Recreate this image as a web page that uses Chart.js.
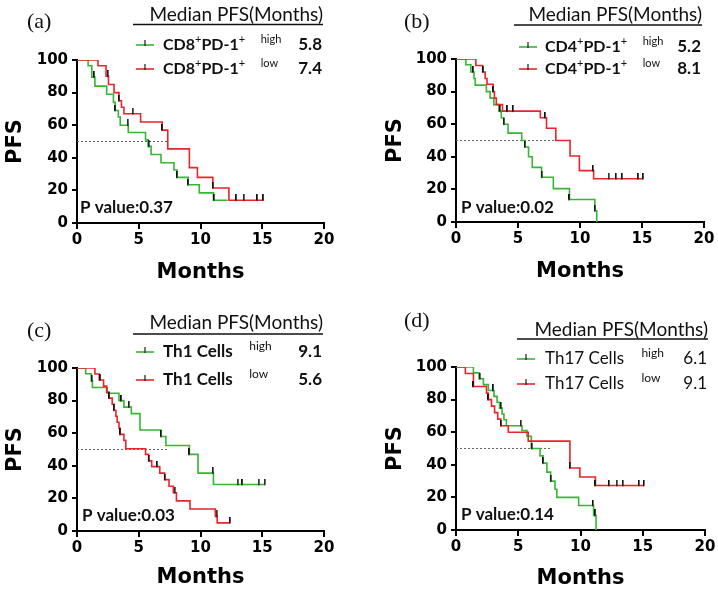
<!DOCTYPE html>
<html>
<head>
<meta charset="utf-8">
<script src="https://cdn.jsdelivr.net/npm/chart.js@4.4.1/dist/chart.umd.min.js"></script>
<style>
  body { margin: 0; background: #fff; }
  #wrap { position: relative; width: 718px; height: 592px; overflow: hidden; }
  .panel { position: absolute; width: 359px; height: 296px; }
</style>
</head>
<body>
<div id="wrap">
  <div class="panel" style="left:0;top:0"><canvas id="chartA" width="359" height="296"></canvas></div>
  <div class="panel" style="left:359px;top:0"><canvas id="chartB" width="359" height="296"></canvas></div>
  <div class="panel" style="left:0;top:296px"><canvas id="chartC" width="359" height="296"></canvas></div>
  <div class="panel" style="left:359px;top:296px"><canvas id="chartD" width="359" height="296"></canvas></div>
</div>
<script>
// axis ticks shared by all four panels
var monthTicks = [0, 5, 10, 15, 20];
var pfsTicks = [0, 20, 40, 60, 80, 100];

// (a) CD8+PD-1+  -- step points [month, PFS %]
var cd8High = [[0,100],[0.9,96.5],[1.2,89.5],[1.45,84],[2.4,79],[2.95,74],[3.1,69],[3.35,65],[3.5,60],[4.15,55.5],[5.55,51],[5.75,47],[6.0,42],[6.8,37],[7.85,32.5],[8.1,28],[9.0,23.5],[9.9,18.5],[11.05,14],[12.2,14]];
var cd8Low = [[0,100],[1.7,96.5],[2.35,90],[2.55,85],[3.0,80],[3.4,75],[3.6,71],[3.8,67],[5.15,62],[6.9,57],[7.35,45.5],[9.1,34],[9.75,28],[11.0,21.5],[12.3,14],[15.1,14]];
var cd8HighCensor = [1.4, 3.1, 4.1, 5.8, 8.1, 9.0, 11.1];
var cd8LowCensor = [2.5, 3.4, 4.5, 6.9, 11.0, 12.9, 13.5, 14.6, 15.1];

// (b) CD4+PD-1+
var cd4High = [[0,100],[0.8,96.5],[1.2,92],[1.45,88],[1.55,84],[2.45,80],[2.75,76],[3.05,72],[3.45,68],[3.65,64],[3.85,60],[4.2,54.5],[5.3,50],[5.55,46],[5.85,40],[6.15,33.5],[6.9,27.5],[7.85,20.5],[9.15,13.8],[11.2,6.9],[11.35,0]];
var cd4Low = [[0,100],[1.6,96],[2.15,92],[2.35,88],[2.5,84.5],[3.0,80],[3.1,76],[3.25,72],[3.75,68],[6.8,64],[7.3,57.5],[8.05,50],[9.2,40.5],[9.95,31.5],[11.1,26.5],[15.1,26.5]];
var cd4HighCensor = [1.4, 3.55, 3.85, 5.55, 6.9, 9.15, 11.2];
var cd4LowCensor = [2.2, 3.0, 4.15, 4.6, 7.2, 11.05, 12.3, 12.9, 13.4, 14.7, 15.1];

// (c) Th1 cells
var th1High = [[0,100],[0.7,96.5],[1.15,92],[1.25,88],[2.45,84.5],[3.4,80],[3.8,76],[4.4,72],[5.1,62],[6.8,58],[7.2,52.5],[9.1,47],[9.8,35.5],[11.05,28.5],[15.2,28.5]];
var th1Low = [[0,100],[1.45,96.3],[1.8,92.6],[2.15,88.9],[2.4,85.2],[2.6,81.5],[2.85,77.8],[3.0,74.1],[3.15,70.4],[3.25,66.7],[3.4,63],[3.5,59.3],[3.8,55.6],[3.95,50.5],[5.55,47],[5.8,43],[6.05,39.5],[6.7,35.5],[7.1,31.5],[7.45,27.5],[7.8,23.5],[8.05,18.5],[9.15,13.5],[11.2,9],[11.35,5],[12.4,5]];
var th1HighCensor = [1.2, 3.6, 4.2, 6.8, 9.1, 11.0, 13.0, 13.4, 14.7, 15.2];
var th1LowCensor = [1.9, 2.6, 3.0, 3.5, 5.8, 6.5, 7.1, 7.9, 11.3, 12.4];

// (d) Th17 cells
var th17High = [[0,100],[1.4,96.4],[1.85,92.8],[2.2,89.2],[2.6,85.6],[3.05,82],[3.3,78.4],[3.5,74.8],[3.7,71.2],[3.85,67.6],[4.05,64],[5.3,61],[5.7,57.5],[6.05,50],[6.75,45.5],[7.0,41],[7.3,35.5],[7.6,30],[7.95,25],[8.1,20],[9.85,15],[11.05,9],[11.25,0]];
var th17Low = [[0,100],[0.75,96],[1.4,88],[2.45,84],[2.6,80],[2.85,76],[3.1,72],[3.35,68],[3.6,64],[4.2,60],[5.8,54.5],[9.15,38],[9.95,32.5],[11.2,27.3],[15.1,27.3]];
var th17HighCensor = [1.9, 3.0, 3.6, 5.2, 6.1, 7.0, 7.6, 11.0, 11.2];
var th17LowCensor = [1.4, 2.6, 3.6, 9.15, 11.2, 12.3, 12.9, 13.4, 14.7, 15.1];

// dotted 50% reference line ends
var medianLineEnd = [7.3, 7.9, 7.3, 7.6];

// legend texts (^...^ = superscript)
var labelsA = ['CD8^+^PD-1^+^    ^high^', 'CD8^+^PD-1^+^    ^low^'];
var labelsB = ['CD4^+^PD-1^+^    ^high^', 'CD4^+^PD-1^+^    ^low^'];
var labelsC = ['Th1 Cells    ^high^', 'Th1 Cells    ^low^'];
var labelsD = ['Th17 Cells    ^high^', 'Th17 Cells    ^low^'];
var mediansA = ['5.8', '7.4'];
var mediansB = ['5.2', '8.1'];
var mediansC = ['9.1', '5.6'];
var mediansD = ['6.1', '9.1'];
var pValues = ['0.37', '0.02', '0.03', '0.14'];

var GREEN = '#36b536';
var RED = '#e8252a';
var INK = '#111';
var W = 359, H = 296;

// survival value at a censor time
function valueAt(steps, t) {
  var v = steps[0][1];
  for (var i = 0; i < steps.length; i++) {
    if (steps[i][0] <= t) v = steps[i][1];
  }
  return v;
}

function toXY(steps) {
  return steps.map(function(p) { return { x: p[0], y: p[1] }; });
}

function censorPoints(steps, times) {
  return times.map(function(t) { return { x: t, y: valueAt(steps, t) }; });
}

// small upward tick used as censor marker
function tickImage() {
  var c = document.createElement('canvas');
  c.width = 2; c.height = 12;
  var g = c.getContext('2d');
  g.fillStyle = '#111';
  g.fillRect(0, 0, 1.6, 6.5);
  return c;
}
var censorMark = tickImage();

function drawRich(ctx, text, x, y, size, weight) {
  var parts = text.split('^');
  var cx = x;
  for (var i = 0; i < parts.length; i++) {
    if (!parts[i]) continue;
    var sup = i % 2 === 1;
    ctx.font = (sup ? 'normal ' : weight + ' ') + (sup ? Math.round(size * 0.7) : size) + 'px Lato';
    ctx.fillText(parts[i], cx, sup ? y - size * 0.36 : y);
    cx += ctx.measureText(parts[i]).width;
  }
}

var panelText = {
  id: 'panelText',
  afterDraw: function(chart) {
    var p = chart.options.plugins.panelText;
    var ctx = chart.ctx;
    ctx.save();
    ctx.fillStyle = INK;
    ctx.textBaseline = 'middle';
    ctx.textAlign = 'left';
    ctx.font = '22px "Liberation Serif"';
    ctx.fillText(p.tag, p.tagX, p.tagY);

    ctx.textAlign = 'right';
    ctx.font = '19px Lato';
    ctx.fillText('Median PFS(Months)', p.right, p.headY);
    ctx.strokeStyle = INK;
    ctx.lineWidth = 1.5;
    ctx.beginPath();
    ctx.moveTo(p.ruleX, p.ruleY);
    ctx.lineTo(p.right, p.ruleY);
    ctx.stroke();

    var colors = [GREEN, RED];
    for (var i = 0; i < 2; i++) {
      var y = p.rowY[i];
      ctx.strokeStyle = colors[i];
      ctx.lineWidth = 1.6;
      ctx.beginPath();
      ctx.moveTo(p.sampleX, y);
      ctx.lineTo(p.sampleX + 18, y);
      ctx.stroke();
      ctx.strokeStyle = '#1a1a1a';
      ctx.lineWidth = 1.2;
      ctx.beginPath();
      ctx.moveTo(p.sampleX + 9, y - 5);
      ctx.lineTo(p.sampleX + 9, y + 1);
      ctx.stroke();
      ctx.textAlign = 'left';
      drawRich(ctx, p.labels[i], p.textX, y, p.labelSize, p.labelWeight);
      ctx.textAlign = 'right';
      ctx.font = p.medianWeight + ' 17px Lato';
      ctx.fillText(p.medians[i], p.right - 1, y);
    }

    ctx.textAlign = 'left';
    ctx.font = 'bold 17px Lato';
    ctx.fillText('P value:' + p.pValue, p.pX, p.pY);
    ctx.restore();
  }
};

function makePanel(id, high, low, highCensor, lowCensor, idx, box, txt) {
  var ctx = document.getElementById(id).getContext('2d');
  return new Chart(ctx, {
    type: 'line',
    data: {
      datasets: [{
        data: toXY(high),
        borderColor: GREEN,
        borderWidth: 1.6,
        stepped: 'before',
        pointRadius: 0,
        fill: false,
        order: 3
      }, {
        data: toXY(low),
        borderColor: RED,
        borderWidth: 1.6,
        stepped: 'before',
        pointRadius: 0,
        fill: false,
        order: 2
      }, {
        data: censorPoints(high, highCensor).concat(censorPoints(low, lowCensor)),
        showLine: false,
        pointStyle: censorMark,
        pointRadius: 4,
        order: 1
      }, {
        data: [{ x: 0, y: 50 }, { x: medianLineEnd[idx], y: 50 }],
        borderColor: '#666',
        borderWidth: 1,
        borderDash: [2, 2],
        pointRadius: 0,
        order: 9
      }]
    },
    options: {
      responsive: false,
      animation: false,
      devicePixelRatio: 1,
      layout: { padding: { left: 0, top: box.top, right: W - box.right, bottom: 0 } },
      plugins: {
        legend: { display: false },
        tooltip: { enabled: false },
        panelText: txt
      },
      scales: {
        x: {
          type: 'linear',
          min: 0,
          max: 20,
          afterBuildTicks: function(s) { s.ticks = monthTicks.map(function(v) { return { value: v }; }); },
          afterFit: function(s) { s.height = H - box.bottom; },
          border: { color: '#000', width: 2 },
          grid: { drawOnChartArea: false, drawTicks: true, tickLength: 6, color: '#000', lineWidth: 2 },
          ticks: { color: '#000', padding: 2, font: { family: 'DejaVu Sans', weight: 'bold', size: 15 } },
          title: {
            display: true, text: 'Months', color: '#000',
            font: { family: 'DejaVu Sans', weight: 'bold', size: 21 },
            padding: { top: 0, bottom: H - box.xTitleY - 12.6 }
          }
        },
        y: {
          min: 0,
          max: 100,
          afterBuildTicks: function(s) { s.ticks = pfsTicks.map(function(v) { return { value: v }; }); },
          afterFit: function(s) { s.width = box.left; },
          border: { color: '#000', width: 2 },
          grid: { drawOnChartArea: false, drawTicks: true, tickLength: 5, color: '#000', lineWidth: 2 },
          ticks: { color: '#000', padding: 4, font: { family: 'DejaVu Sans', weight: 'bold', size: 15 } },
          title: {
            display: true, text: 'PFS', color: '#000',
            font: { family: 'DejaVu Sans', weight: 'bold', size: 21 },
            padding: { top: box.yTitleX - 12.6, bottom: 0 }
          }
        }
      }
    },
    plugins: [panelText]
  });
}

makePanel('chartA', cd8High, cd8Low, cd8HighCensor, cd8LowCensor, 0,
  { left: 77, right: 324, top: 60, bottom: 223, xTitleY: 273, yTitleX: 16 },
  { tag: '(a)', tagX: 27, tagY: 22, right: 323, headY: 15, ruleX: 133, ruleY: 24.5,
    rowY: [45, 69], sampleX: 136, textX: 163, labels: labelsA, labelSize: 16, labelWeight: 'bold',
    medians: mediansA, medianWeight: 'bold', pValue: pValues[0], pX: 80, pY: 208 });

makePanel('chartB', cd4High, cd4Low, cd4HighCensor, cd4LowCensor, 1,
  { left: 97, right: 345, top: 59, bottom: 222, xTitleY: 272, yTitleX: 37 },
  { tag: '(b)', tagX: 45, tagY: 22, right: 343, headY: 15, ruleX: 155, ruleY: 25,
    rowY: [47, 69], sampleX: 160, textX: 186, labels: labelsB, labelSize: 16, labelWeight: 'bold',
    medians: mediansB, medianWeight: 'bold', pValue: pValues[1], pX: 102, pY: 208 });

makePanel('chartC', th1High, th1Low, th1HighCensor, th1LowCensor, 2,
  { left: 77, right: 324, top: 72, bottom: 235, xTitleY: 282, yTitleX: 16 },
  { tag: '(c)', tagX: 27, tagY: 35, right: 323, headY: 27, ruleX: 133, ruleY: 38,
    rowY: [56, 84], sampleX: 136, textX: 163, labels: labelsC, labelSize: 17, labelWeight: 'bold',
    medians: mediansC, medianWeight: 'bold', pValue: pValues[2], pX: 82, pY: 220 });

makePanel('chartD', th17High, th17Low, th17HighCensor, th17LowCensor, 3,
  { left: 97, right: 346, top: 71, bottom: 234, xTitleY: 283, yTitleX: 37 },
  { tag: '(d)', tagX: 45, tagY: 25, right: 349, headY: 34, ruleX: 158, ruleY: 43,
    rowY: [63, 88], sampleX: 158, textX: 186, labels: labelsD, labelSize: 17, labelWeight: 'normal',
    medians: mediansD, medianWeight: 'normal', pValue: pValues[3], pX: 102, pY: 219 });
</script>
</body>
</html>
